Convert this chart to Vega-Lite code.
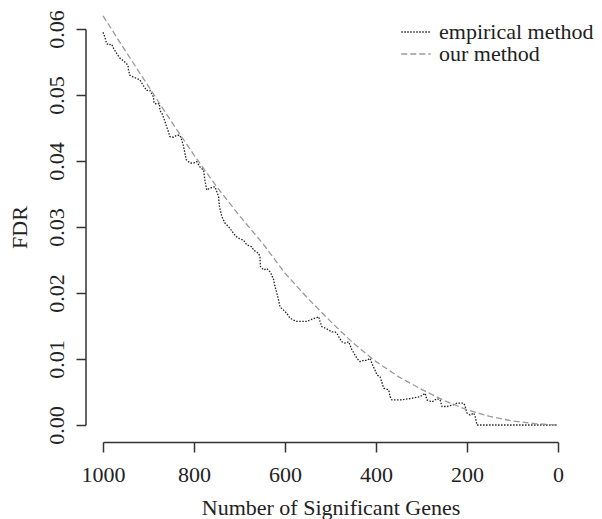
{
  "$schema": "https://vega.github.io/schema/vega-lite/v6.json",
  "autosize": {"type": "none"},
  "width": 455,
  "height": 396,
  "padding": {"left": 103, "top": 29, "right": 44, "bottom": 94},
  "background": "white",
  "config": {
    "view": {"stroke": null},
    "font": "Liberation Serif",
    "axis": {
      "grid": false,
      "domainColor": "#333333",
      "domainWidth": 1.5,
      "tickColor": "#333333",
      "tickWidth": 1.5,
      "labelFont": "Liberation Serif",
      "labelFontSize": 22,
      "labelColor": "#222222",
      "titleFont": "Liberation Serif",
      "titleFontSize": 22,
      "titleFontWeight": "normal",
      "titleColor": "#222222"
    }
  },
  "data": {
    "values": [
      {"series": "empirical method", "n": 1000, "fdr": 0.0595},
      {"series": "empirical method", "n": 996, "fdr": 0.0588},
      {"series": "empirical method", "n": 992, "fdr": 0.0578},
      {"series": "empirical method", "n": 988, "fdr": 0.0576},
      {"series": "empirical method", "n": 981, "fdr": 0.0577},
      {"series": "empirical method", "n": 977, "fdr": 0.0571},
      {"series": "empirical method", "n": 970, "fdr": 0.0563},
      {"series": "empirical method", "n": 963, "fdr": 0.0556},
      {"series": "empirical method", "n": 952, "fdr": 0.0550},
      {"series": "empirical method", "n": 945, "fdr": 0.0545},
      {"series": "empirical method", "n": 944, "fdr": 0.0538},
      {"series": "empirical method", "n": 941, "fdr": 0.0530},
      {"series": "empirical method", "n": 933, "fdr": 0.0527},
      {"series": "empirical method", "n": 919, "fdr": 0.0523},
      {"series": "empirical method", "n": 911, "fdr": 0.0514},
      {"series": "empirical method", "n": 904, "fdr": 0.0507},
      {"series": "empirical method", "n": 897, "fdr": 0.0507},
      {"series": "empirical method", "n": 889, "fdr": 0.0497},
      {"series": "empirical method", "n": 888, "fdr": 0.0488},
      {"series": "empirical method", "n": 882, "fdr": 0.0486},
      {"series": "empirical method", "n": 876, "fdr": 0.0487},
      {"series": "empirical method", "n": 875, "fdr": 0.0477},
      {"series": "empirical method", "n": 869, "fdr": 0.0470},
      {"series": "empirical method", "n": 864, "fdr": 0.0460},
      {"series": "empirical method", "n": 860, "fdr": 0.0452},
      {"series": "empirical method", "n": 856, "fdr": 0.0444},
      {"series": "empirical method", "n": 853, "fdr": 0.0437},
      {"series": "empirical method", "n": 845, "fdr": 0.0436},
      {"series": "empirical method", "n": 838, "fdr": 0.0439},
      {"series": "empirical method", "n": 831, "fdr": 0.0439},
      {"series": "empirical method", "n": 827, "fdr": 0.0432},
      {"series": "empirical method", "n": 823, "fdr": 0.0422},
      {"series": "empirical method", "n": 820, "fdr": 0.0412},
      {"series": "empirical method", "n": 817, "fdr": 0.0402},
      {"series": "empirical method", "n": 809, "fdr": 0.0397},
      {"series": "empirical method", "n": 801, "fdr": 0.0397},
      {"series": "empirical method", "n": 794, "fdr": 0.0399},
      {"series": "empirical method", "n": 787, "fdr": 0.0391},
      {"series": "empirical method", "n": 779, "fdr": 0.0386},
      {"series": "empirical method", "n": 776, "fdr": 0.0371},
      {"series": "empirical method", "n": 772, "fdr": 0.0356},
      {"series": "empirical method", "n": 765, "fdr": 0.0359},
      {"series": "empirical method", "n": 754, "fdr": 0.0361},
      {"series": "empirical method", "n": 750, "fdr": 0.0354},
      {"series": "empirical method", "n": 746, "fdr": 0.0346},
      {"series": "empirical method", "n": 744, "fdr": 0.0331},
      {"series": "empirical method", "n": 739, "fdr": 0.0316},
      {"series": "empirical method", "n": 732, "fdr": 0.0306},
      {"series": "empirical method", "n": 721, "fdr": 0.0298},
      {"series": "empirical method", "n": 713, "fdr": 0.0290},
      {"series": "empirical method", "n": 706, "fdr": 0.0285},
      {"series": "empirical method", "n": 702, "fdr": 0.0283},
      {"series": "empirical method", "n": 691, "fdr": 0.0280},
      {"series": "empirical method", "n": 684, "fdr": 0.0273},
      {"series": "empirical method", "n": 673, "fdr": 0.0270},
      {"series": "empirical method", "n": 669, "fdr": 0.0265},
      {"series": "empirical method", "n": 658, "fdr": 0.0260},
      {"series": "empirical method", "n": 655, "fdr": 0.0255},
      {"series": "empirical method", "n": 654, "fdr": 0.0240},
      {"series": "empirical method", "n": 647, "fdr": 0.0235},
      {"series": "empirical method", "n": 640, "fdr": 0.0237},
      {"series": "empirical method", "n": 633, "fdr": 0.0232},
      {"series": "empirical method", "n": 629, "fdr": 0.0227},
      {"series": "empirical method", "n": 625, "fdr": 0.0220},
      {"series": "empirical method", "n": 622, "fdr": 0.0210},
      {"series": "empirical method", "n": 618, "fdr": 0.0200},
      {"series": "empirical method", "n": 614, "fdr": 0.0189},
      {"series": "empirical method", "n": 611, "fdr": 0.0179},
      {"series": "empirical method", "n": 603, "fdr": 0.0174},
      {"series": "empirical method", "n": 596, "fdr": 0.0169},
      {"series": "empirical method", "n": 589, "fdr": 0.0162},
      {"series": "empirical method", "n": 581, "fdr": 0.0159},
      {"series": "empirical method", "n": 574, "fdr": 0.0157},
      {"series": "empirical method", "n": 567, "fdr": 0.0157},
      {"series": "empirical method", "n": 552, "fdr": 0.0157},
      {"series": "empirical method", "n": 545, "fdr": 0.0159},
      {"series": "empirical method", "n": 534, "fdr": 0.0162},
      {"series": "empirical method", "n": 526, "fdr": 0.0164},
      {"series": "empirical method", "n": 523, "fdr": 0.0157},
      {"series": "empirical method", "n": 519, "fdr": 0.0149},
      {"series": "empirical method", "n": 512, "fdr": 0.0147},
      {"series": "empirical method", "n": 504, "fdr": 0.0144},
      {"series": "empirical method", "n": 497, "fdr": 0.0141},
      {"series": "empirical method", "n": 490, "fdr": 0.0141},
      {"series": "empirical method", "n": 486, "fdr": 0.0139},
      {"series": "empirical method", "n": 482, "fdr": 0.0134},
      {"series": "empirical method", "n": 475, "fdr": 0.0126},
      {"series": "empirical method", "n": 468, "fdr": 0.0124},
      {"series": "empirical method", "n": 460, "fdr": 0.0126},
      {"series": "empirical method", "n": 457, "fdr": 0.0121},
      {"series": "empirical method", "n": 453, "fdr": 0.0114},
      {"series": "empirical method", "n": 446, "fdr": 0.0106},
      {"series": "empirical method", "n": 442, "fdr": 0.0101},
      {"series": "empirical method", "n": 435, "fdr": 0.0096},
      {"series": "empirical method", "n": 427, "fdr": 0.0098},
      {"series": "empirical method", "n": 420, "fdr": 0.0098},
      {"series": "empirical method", "n": 413, "fdr": 0.0101},
      {"series": "empirical method", "n": 409, "fdr": 0.0093},
      {"series": "empirical method", "n": 402, "fdr": 0.0083},
      {"series": "empirical method", "n": 398, "fdr": 0.0076},
      {"series": "empirical method", "n": 391, "fdr": 0.0073},
      {"series": "empirical method", "n": 383, "fdr": 0.0056},
      {"series": "empirical method", "n": 372, "fdr": 0.0053},
      {"series": "empirical method", "n": 369, "fdr": 0.0043},
      {"series": "empirical method", "n": 365, "fdr": 0.0038},
      {"series": "empirical method", "n": 347, "fdr": 0.0038},
      {"series": "empirical method", "n": 325, "fdr": 0.0040},
      {"series": "empirical method", "n": 303, "fdr": 0.0043},
      {"series": "empirical method", "n": 292, "fdr": 0.0048},
      {"series": "empirical method", "n": 288, "fdr": 0.0038},
      {"series": "empirical method", "n": 277, "fdr": 0.0035},
      {"series": "empirical method", "n": 266, "fdr": 0.0040},
      {"series": "empirical method", "n": 259, "fdr": 0.0038},
      {"series": "empirical method", "n": 255, "fdr": 0.0028},
      {"series": "empirical method", "n": 244, "fdr": 0.0028},
      {"series": "empirical method", "n": 233, "fdr": 0.0030},
      {"series": "empirical method", "n": 222, "fdr": 0.0033},
      {"series": "empirical method", "n": 207, "fdr": 0.0033},
      {"series": "empirical method", "n": 204, "fdr": 0.0028},
      {"series": "empirical method", "n": 200, "fdr": 0.0018},
      {"series": "empirical method", "n": 193, "fdr": 0.0015},
      {"series": "empirical method", "n": 185, "fdr": 0.0018},
      {"series": "empirical method", "n": 182, "fdr": 0.0013},
      {"series": "empirical method", "n": 178, "fdr": 0.0000},
      {"series": "empirical method", "n": 2, "fdr": 0.0000},
      {"series": "our method", "n": 1000, "fdr": 0.0620},
      {"series": "our method", "n": 950, "fdr": 0.0566},
      {"series": "our method", "n": 900, "fdr": 0.0513},
      {"series": "our method", "n": 850, "fdr": 0.0460},
      {"series": "our method", "n": 800, "fdr": 0.0409},
      {"series": "our method", "n": 750, "fdr": 0.0361},
      {"series": "our method", "n": 700, "fdr": 0.0317},
      {"series": "our method", "n": 650, "fdr": 0.0276},
      {"series": "our method", "n": 600, "fdr": 0.0230},
      {"series": "our method", "n": 550, "fdr": 0.0192},
      {"series": "our method", "n": 500, "fdr": 0.0157},
      {"series": "our method", "n": 450, "fdr": 0.0124},
      {"series": "our method", "n": 400, "fdr": 0.0096},
      {"series": "our method", "n": 350, "fdr": 0.0073},
      {"series": "our method", "n": 300, "fdr": 0.0054},
      {"series": "our method", "n": 250, "fdr": 0.0037},
      {"series": "our method", "n": 200, "fdr": 0.0023},
      {"series": "our method", "n": 150, "fdr": 0.0013},
      {"series": "our method", "n": 100, "fdr": 0.0006},
      {"series": "our method", "n": 50, "fdr": 0.0002},
      {"series": "our method", "n": 5, "fdr": 0.0000}
    ]
  },
  "mark": {"type": "line", "strokeWidth": 1.3},
  "encoding": {
    "x": {
      "field": "n",
      "type": "quantitative",
      "scale": {"domain": [0, 1000], "reverse": true, "nice": false, "zero": false},
      "axis": {
        "title": "Number of Significant Genes",
        "values": [0, 200, 400, 600, 800, 1000],
        "format": "d",
        "offset": 17,
        "tickSize": 10,
        "labelPadding": 12,
        "titlePadding": 12,
        "labelFlush": false
      }
    },
    "y": {
      "field": "fdr",
      "type": "quantitative",
      "scale": {"domain": [0, 0.06], "nice": false, "zero": false},
      "axis": {
        "title": "FDR",
        "values": [0, 0.01, 0.02, 0.03, 0.04, 0.05, 0.06],
        "format": ".2f",
        "labelAngle": 270,
        "offset": 17.5,
        "tickSize": 9.5,
        "labelPadding": 8,
        "titlePadding": 14,
        "labelFlush": false
      }
    },
    "color": {
      "field": "series",
      "type": "nominal",
      "scale": {"domain": ["empirical method", "our method"], "range": ["#222222", "#9a9a9a"]},
      "legend": {
        "title": null,
        "orient": "none",
        "legendX": 302,
        "legendY": -8,
        "padding": 0,
        "symbolType": "M-1.55,0H1.55",
        "symbolSize": 361,
        "symbolStrokeWidth": 1.3,
        "labelFont": "Liberation Serif",
        "labelFontSize": 22,
        "labelColor": "#222222",
        "labelOffset": 12,
        "rowPadding": -3,
        "labelLimit": 400
      }
    },
    "strokeDash": {
      "field": "series",
      "type": "nominal",
      "scale": {"domain": ["empirical method", "our method"], "range": [[1.5, 1.5], [6, 3]]},
      "legend": null
    }
  }
}
